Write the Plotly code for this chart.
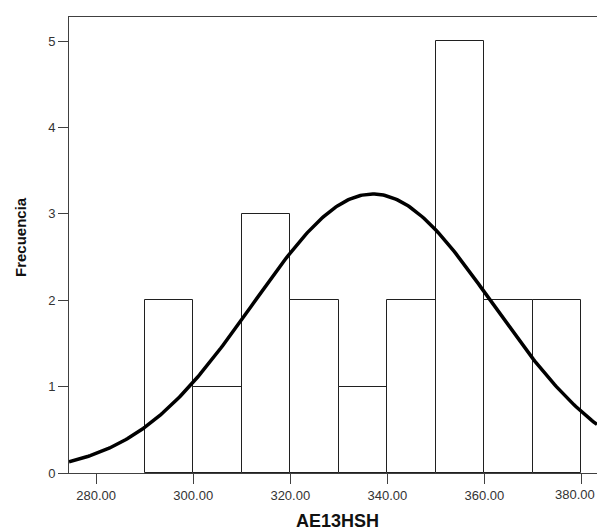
import numpy as np
import plotly.graph_objects as go

# Histogram bins (left edges) and frequencies
bin_starts = [290, 300, 310, 320, 330, 340, 350, 360, 370]
bin_width = 10
freqs = [2, 1, 3, 2, 1, 2, 5, 2, 2]

# Normal curve parameters
curve_mean = 337.0
curve_sd = 24.7
n_total = sum(freqs)

x_ticks = [280, 300, 320, 340, 360, 380]
y_ticks = [0, 1, 2, 3, 4, 5]

x_title = "AE13HSH"
y_title = "Frecuencia"

x_range = [274.4, 383.2]
y_range = [0, 5.28]

centers = [s + bin_width / 2 for s in bin_starts]

xs = np.linspace(x_range[0], x_range[1], 300)
ys = n_total * bin_width / (curve_sd * np.sqrt(2 * np.pi)) * np.exp(-((xs - curve_mean) ** 2) / (2 * curve_sd ** 2))

tick_labels = [f"{v:.2f}" for v in x_ticks]
# last label would be clipped by the right edge; draw it as an annotation kept inside
axis_ticktext = tick_labels[:-1] + [""]

fig = go.Figure()
fig.add_trace(go.Bar(
    x=centers, y=freqs, width=bin_width,
    marker=dict(color="white", line=dict(color="#202020", width=1)),
    hoverinfo="skip",
))
fig.add_trace(go.Scatter(
    x=xs, y=ys, mode="lines",
    line=dict(color="black", width=3.5),
    hoverinfo="skip",
))

font_family = "Liberation Sans, Arial, sans-serif"
tick_font = dict(family=font_family, size=13, color="#333333")
fig.update_layout(
    width=597, height=531,
    margin=dict(l=69, r=0, t=17, b=58),
    paper_bgcolor="white", plot_bgcolor="white",
    showlegend=False,
    bargap=0,
    font=dict(family=font_family, size=12, color="#333333"),
    xaxis=dict(
        range=x_range, tickvals=x_ticks, ticktext=axis_ticktext,
        showgrid=False, zeroline=False,
        showline=True, linecolor="#404040", linewidth=1, mirror=True,
        ticks="outside", ticklen=10, tickcolor="#404040", tickwidth=1,
        tickfont=tick_font,
        automargin=False,
    ),
    yaxis=dict(
        range=y_range, tickvals=y_ticks,
        showgrid=False, zeroline=False,
        showline=True, linecolor="#404040", linewidth=1,
        ticks="outside", ticklen=10, tickcolor="#404040", tickwidth=1,
        tickfont=tick_font,
        automargin=False,
    ),
    annotations=[
        dict(
            text=tick_labels[-1], xref="paper", yref="paper", x=1, y=0,
            xanchor="right", yanchor="middle", yshift=-21, showarrow=False,
            font=tick_font,
        ),
        dict(
            text=f"<b>{x_title}</b>", xref="paper", yref="paper", x=0.5, y=0,
            xanchor="center", yanchor="middle", xshift=4, yshift=-48, showarrow=False,
            font=dict(family=font_family, size=18, color="#111111"),
        ),
        dict(
            text=f"<b>{y_title}</b>", xref="paper", yref="paper", x=0, y=0.5,
            xanchor="center", yanchor="middle", xshift=-49, yshift=8, textangle=-90,
            showarrow=False,
            font=dict(family=font_family, size=15, color="#111111"),
        ),
    ],
)

fig.write_html("out.html")
